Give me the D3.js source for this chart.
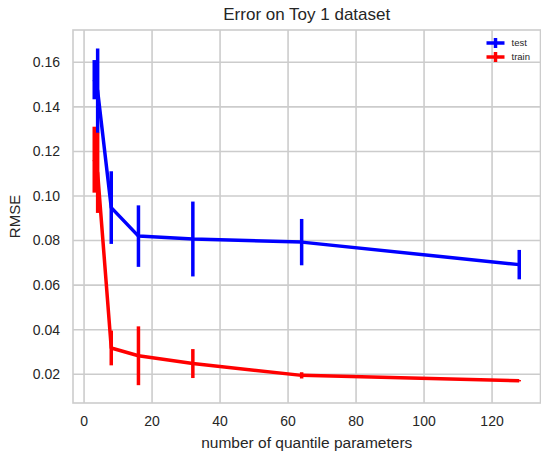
<!DOCTYPE html>
<html>
<head>
<meta charset="utf-8">
<script src="https://cdn.jsdelivr.net/npm/d3@7"></script>
<style>
  body { margin: 0; background: #fff; }
  text { font-family: "Liberation Sans", Arial, sans-serif; fill: #262626; }
</style>
</head>
<body>
<div id="chart"></div>
<script>
// number of quantile parameters
const params = [3, 4, 8, 16, 32, 64, 128];

// RMSE means and error bar half-widths
const testMean = [0.1522, 0.1472, 0.0948, 0.0820, 0.0807, 0.0793, 0.0692];
const testErr  = [0.0088, 0.0190, 0.0163, 0.0138, 0.0168, 0.0104, 0.0066];
const trainMean = [0.1163, 0.1104, 0.0318, 0.0283, 0.0248, 0.0195, 0.0171];
const trainErr  = [0.0148, 0.0180, 0.0078, 0.0132, 0.0065, 0.0014, 0.0003];

const xTicks = [0, 20, 40, 60, 80, 100, 120];
const yTicks = [0.02, 0.04, 0.06, 0.08, 0.10, 0.12, 0.14, 0.16];

const series = [
    {name: "test", color: "#0000ff", mean: testMean, err: testErr},
    {name: "train", color: "#ff0000", mean: trainMean, err: trainErr}
];

const width = 541, height = 452;
const margin = {top: 30, right: 0.5, bottom: 49, left: 73};
const w = width - margin.left - margin.right;
const h = height - margin.top - margin.bottom;

const svg = d3.select("#chart").append("svg")
    .attr("width", width)
    .attr("height", height);

const g = svg.append("g")
    .attr("transform", "translate(" + margin.left + "," + margin.top + ")");

const x = d3.scaleLinear().domain([-3.25, 134.25]).range([0, w]);
const y = d3.scaleLinear().domain([0.0071, 0.1745]).range([h, 0]);

// grid
g.selectAll(".xgrid").data(xTicks).enter().append("line")
    .attr("x1", d => x(d)).attr("x2", d => x(d))
    .attr("y1", 0).attr("y2", h)
    .attr("stroke", "#cccccc").attr("stroke-width", 1.6);

g.selectAll(".ygrid").data(yTicks).enter().append("line")
    .attr("x1", 0).attr("x2", w)
    .attr("y1", d => y(d)).attr("y2", d => y(d))
    .attr("stroke", "#cccccc").attr("stroke-width", 1.6);

// frame
g.append("rect")
    .attr("width", w).attr("height", h)
    .attr("fill", "none")
    .attr("stroke", "#cccccc").attr("stroke-width", 1.6);

// tick labels
g.selectAll(".xlab").data(xTicks).enter().append("text")
    .attr("x", d => x(d)).attr("y", h + 23)
    .attr("text-anchor", "middle")
    .style("font-size", "14px")
    .text(d => d);

g.selectAll(".ylab").data(yTicks).enter().append("text")
    .attr("x", -13).attr("y", d => y(d))
    .attr("dy", "0.35em")
    .attr("text-anchor", "end")
    .style("font-size", "14px")
    .text(d => d.toFixed(2));

// axis labels + title
g.append("text")
    .attr("x", w / 2).attr("y", h + 45)
    .attr("text-anchor", "middle")
    .style("font-size", "15.5px")
    .text("number of quantile parameters");

g.append("text")
    .attr("transform", "translate(" + (-53) + "," + (h / 2) + ") rotate(-90)")
    .attr("text-anchor", "middle")
    .style("font-size", "15px")
    .text("RMSE");

g.append("text")
    .attr("x", w / 2).attr("y", -10)
    .attr("text-anchor", "middle")
    .style("font-size", "17px")
    .text("Error on Toy 1 dataset");

// lines and error bars
const line = d3.line()
    .x(d => x(d[0]))
    .y(d => y(d[1]));

series.forEach(s => {
    let pts = params.map((p, i) => [p, s.mean[i], s.err[i]]);

    g.append("path")
        .datum(pts)
        .attr("d", line)
        .attr("fill", "none")
        .attr("stroke", s.color)
        .attr("stroke-width", 3.5)
        .attr("stroke-linejoin", "round");

    g.selectAll(".err-" + s.name).data(pts).enter().append("line")
        .attr("x1", d => x(d[0])).attr("x2", d => x(d[0]))
        .attr("y1", d => y(d[1] - d[2]))
        .attr("y2", d => y(d[1] + d[2]))
        .attr("stroke", s.color)
        .attr("stroke-width", 3.5);
});

// legend
const legend = g.append("g")
    .attr("transform", "translate(" + (w - 54) + ",13)");

series.forEach((s, i) => {
    let row = legend.append("g").attr("transform", "translate(0," + (i * 14) + ")");
    row.append("line")
        .attr("x1", 0).attr("x2", 18).attr("y1", 0).attr("y2", 0)
        .attr("stroke", s.color).attr("stroke-width", 3.5);
    row.append("line")
        .attr("x1", 9).attr("x2", 9).attr("y1", -5).attr("y2", 5)
        .attr("stroke", s.color).attr("stroke-width", 3.5);
    row.append("text")
        .attr("x", 25).attr("y", 0).attr("dy", "0.35em")
        .style("font-size", "9.5px")
        .text(s.name);
});
</script>
</body>
</html>
